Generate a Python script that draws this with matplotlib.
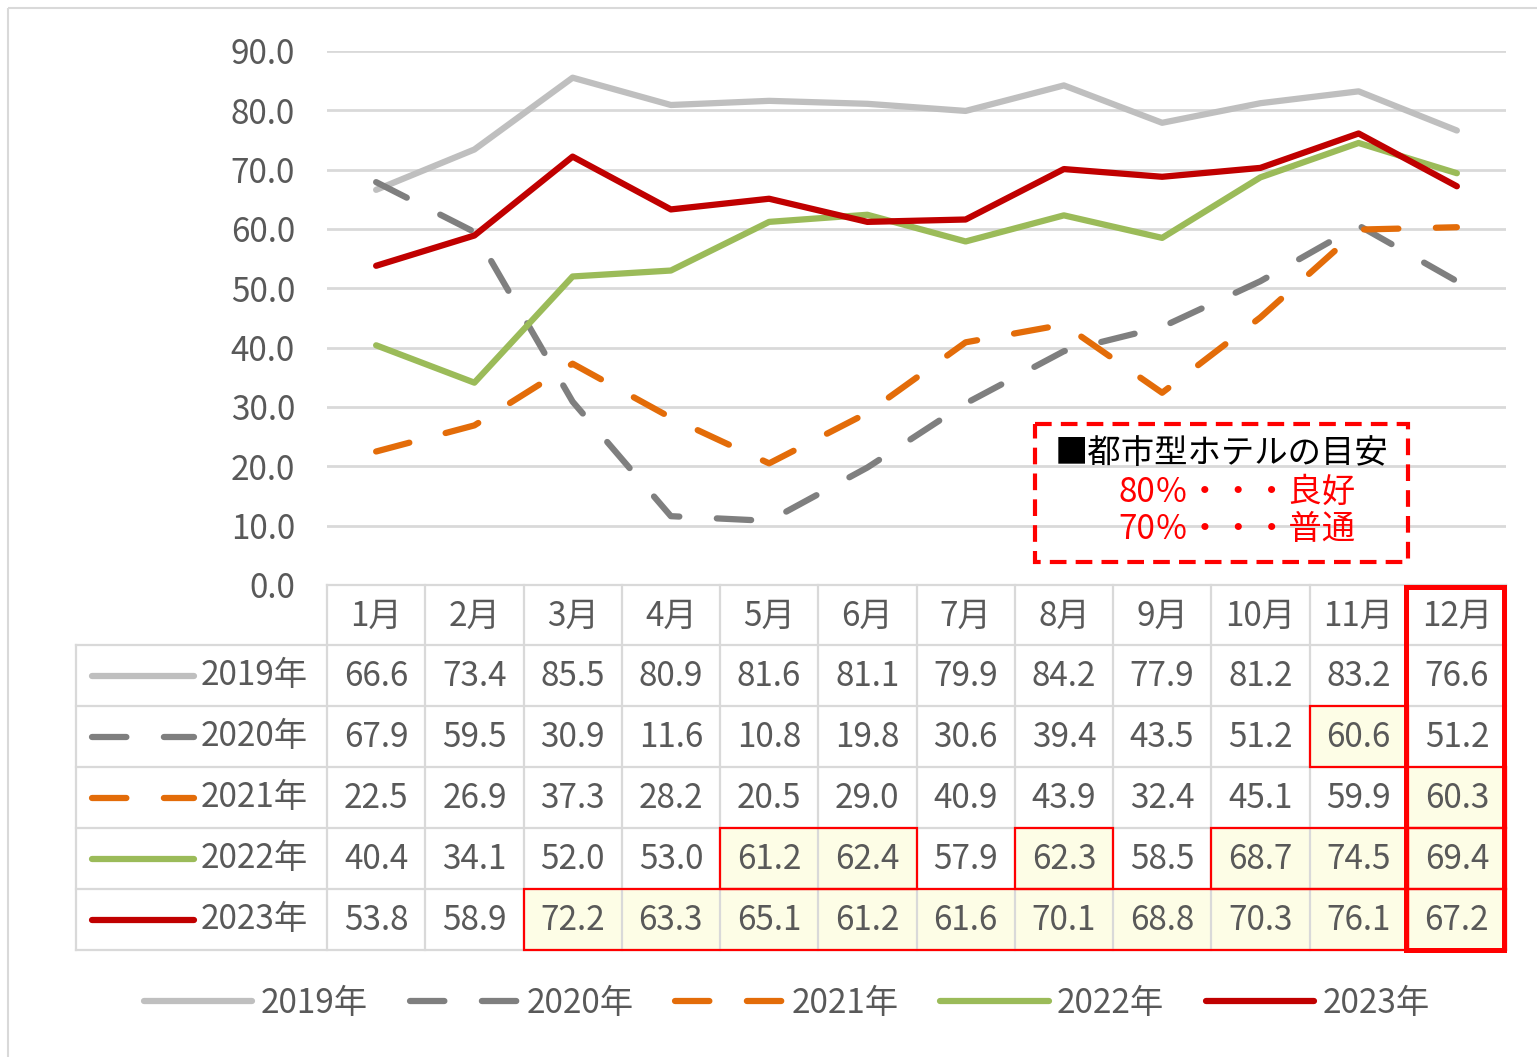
"""Monthly hotel occupancy chart (2019-2023) with an Excel-style data table."""

import matplotlib
matplotlib.use("Agg")
import matplotlib.patches as mpatches
import matplotlib.pyplot as plt
from matplotlib.lines import Line2D

plt.rcParams["font.family"] = ["Noto Sans CJK JP", "DejaVu Sans"]

# ---- data ----
months = ["1月", "2月", "3月", "4月", "5月", "6月",
          "7月", "8月", "9月", "10月", "11月", "12月"]
years = ["2019年", "2020年", "2021年", "2022年", "2023年"]
occ_2019 = [66.6, 73.4, 85.5, 80.9, 81.6, 81.1, 79.9, 84.2, 77.9, 81.2, 83.2, 76.6]
occ_2020 = [67.9, 59.5, 30.9, 11.6, 10.8, 19.8, 30.6, 39.4, 43.5, 51.2, 60.6, 51.2]
occ_2021 = [22.5, 26.9, 37.3, 28.2, 20.5, 29.0, 40.9, 43.9, 32.4, 45.1, 59.9, 60.3]
occ_2022 = [40.4, 34.1, 52.0, 53.0, 61.2, 62.4, 57.9, 62.3, 58.5, 68.7, 74.5, 69.4]
occ_2023 = [53.8, 58.9, 72.2, 63.3, 65.1, 61.2, 61.6, 70.1, 68.8, 70.3, 76.1, 67.2]
series = [occ_2019, occ_2020, occ_2021, occ_2022, occ_2023]
# cells marked in the table (1 = highlighted)
mark_2019 = [0, 0, 0, 0, 0, 0, 0, 0, 0, 0, 0, 0]
mark_2020 = [0, 0, 0, 0, 0, 0, 0, 0, 0, 0, 1, 0]
mark_2021 = [0, 0, 0, 0, 0, 0, 0, 0, 0, 0, 0, 1]
mark_2022 = [0, 0, 0, 0, 1, 1, 0, 1, 0, 1, 1, 1]
mark_2023 = [0, 0, 1, 1, 1, 1, 1, 1, 1, 1, 1, 1]
marks = [mark_2019, mark_2020, mark_2021, mark_2022, mark_2023]
yticks = [0, 10, 20, 30, 40, 50, 60, 70, 80, 90]
note_title = "■都市型ホテルの目安"
note_lines = ["80％・・・良好", "70％・・・普通"]

# ---- styles ----
colors = ["#bfbfbf", "#7f7f7f", "#e36c09", "#9bbb59", "#c00000"]
dashed = [False, True, True, False, False]
LW = 4.5
DASH = (0, (5.5, 6))
TXT = "#595959"
GRID = "#d9d9d9"
RED = "#ff0000"
FS = 24

W, H = 1537, 1057
fig = plt.figure(figsize=(W / 100, H / 100), dpi=100)

# layout in pixels
px_left, px_right = 327, 1506
px_top, px_zero = 51, 585
lab_left = 76
head_h, row_h = 60, 61
col_w = (px_right - px_left) / len(months)

# ---- main line chart ----
ax = fig.add_axes([px_left / W, 1 - px_zero / H,
                   (px_right - px_left) / W, (px_zero - px_top) / H])
ax.set_zorder(1)
ax.patch.set_alpha(0)
x = list(range(len(months)))
for vals, c, d, lab in zip(series, colors, dashed, years):
    ax.plot(x, vals, color=c, linewidth=LW, label=lab,
            linestyle=DASH if d else "-",
            dash_capstyle="round", solid_capstyle="round", zorder=3)
ax.set_xlim(-0.5, len(months) - 0.5)
ax.set_ylim(0, 90)
ax.set_yticks(yticks)
ax.set_yticklabels([f"{v:.1f}" for v in yticks], fontsize=FS, color=TXT)
ax.tick_params(axis="y", length=0, pad=23)
ax.set_xticks([])
ax.grid(axis="y", color=GRID, linewidth=2)
ax.set_axisbelow(True)
for s in ax.spines.values():
    s.set_visible(False)

# ---- overlay axes in pixel coordinates (table, frame, note box) ----
ov = fig.add_axes([0, 0, 1, 1])
ov.set_zorder(2)
ov.set_xlim(0, W)
ov.set_ylim(H, 0)
ov.axis("off")

# outer frame (only top/left visible)
ov.add_patch(mpatches.Rectangle((8, 8), W + 20, H + 20, fill=False,
                                edgecolor=GRID, linewidth=1.5))

# ---- data table ----
col_x = [px_left + i * col_w for i in range(len(months) + 1)]
row_y = [px_zero + head_h + r * row_h for r in range(len(years) + 1)]

# highlighted cells (fill)
for r, mk in enumerate(marks):
    for c, m in enumerate(mk):
        if m:
            ov.add_patch(mpatches.Rectangle((col_x[c], row_y[r]), col_w, row_h,
                                            facecolor="#fdfde6", edgecolor="none",
                                            zorder=1))

# grid lines
gkw = dict(color=GRID, linewidth=1.6, zorder=2)
ov.plot([px_left, px_right], [px_zero, px_zero], **gkw)
for yy in row_y:
    ov.plot([lab_left, px_right], [yy, yy], **gkw)
ov.plot([lab_left, lab_left], [row_y[0], row_y[-1]], **gkw)
for xx in col_x:
    ov.plot([xx, xx], [px_zero, row_y[-1]], **gkw)

# header
for c, m in enumerate(months):
    ov.text(col_x[c] + col_w / 2, px_zero + head_h / 2 + 1, m, fontsize=FS,
            color=TXT, ha="center", va="center", zorder=4)

# rows
for r, (vals, lab) in enumerate(zip(series, years)):
    yc = row_y[r] + row_h / 2
    ov.add_line(Line2D([92, 194], [yc, yc], color=colors[r], linewidth=LW,
                       linestyle=DASH if dashed[r] else "-",
                       dash_capstyle="round", solid_capstyle="round", zorder=4))
    ov.text(201, yc, lab, fontsize=FS, color=TXT, ha="left", va="center", zorder=4)
    for c, v in enumerate(vals):
        ov.text(col_x[c] + col_w / 2, yc + 1, f"{v:.1f}", fontsize=FS,
                color=TXT, ha="center", va="center", zorder=4)

# red boxes around runs of marked cells (months 1-11), single boxes in 12月
last = len(months) - 1
for r, mk in enumerate(marks):
    c = 0
    while c < last:
        if mk[c]:
            start = c
            while c < last and mk[c]:
                c += 1
            ov.add_patch(mpatches.Rectangle((col_x[start], row_y[r]),
                                            col_x[c] - col_x[start], row_h,
                                            fill=False, edgecolor=RED,
                                            linewidth=1.6, zorder=5))
        else:
            c += 1
    if mk[last]:
        ov.add_patch(mpatches.Rectangle((col_x[last], row_y[r]), col_w, row_h,
                                        fill=False, edgecolor=RED,
                                        linewidth=1.6, zorder=5))
ov.add_patch(mpatches.Rectangle((col_x[last] - 2, px_zero + 2), col_w, row_y[-1] - px_zero - 2,
                                fill=False, edgecolor=RED, linewidth=3.6,
                                joinstyle="miter", zorder=6))

# ---- note box ----
ov.add_patch(mpatches.Rectangle((1035, 424), 373, 138, fill=False, edgecolor=RED,
                                linewidth=3, linestyle=(0, (4, 2.2)), zorder=6))
ov.text(1222, 454, note_title, fontsize=FS, color="black",
        ha="center", va="center", zorder=6)
for i, t in enumerate(note_lines):
    ov.text(1237, 492 + i * 38, t, fontsize=FS, color=RED,
            ha="center", va="center", zorder=6)

# ---- legend ----
handles, labels = ax.get_legend_handles_labels()
leg = fig.legend(handles, labels, loc="center", bbox_to_anchor=(787 / W, 1 - 1003 / H),
                 ncol=5, frameon=False, fontsize=FS, handlelength=3.25,
                 handletextpad=0.25, columnspacing=1.25)
for t in leg.get_texts():
    t.set_color(TXT)

fig.savefig("out.png", dpi=100)
plt.close(fig)
